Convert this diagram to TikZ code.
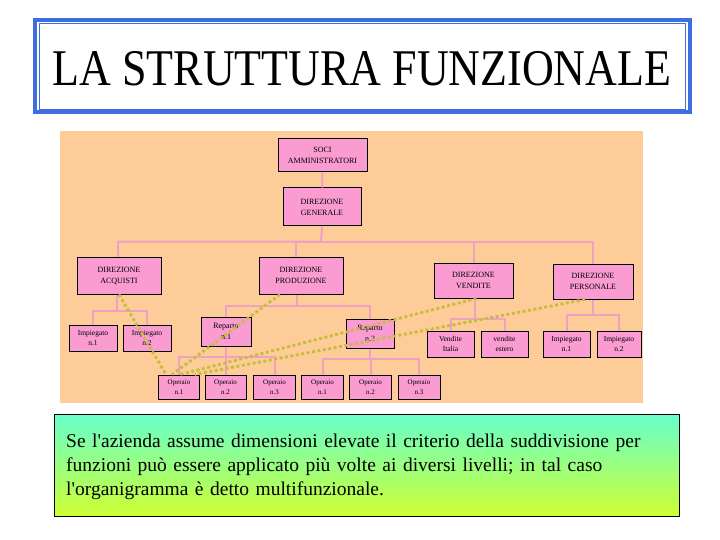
\documentclass[tikz,border=0pt]{standalone}
\usepackage{fontspec}
\setmainfont{Liberation Serif}
\usepackage{graphicx}
\definecolor{titleblue}{RGB}{62,110,225}
\definecolor{peach}{RGB}{253,204,153}
\definecolor{pinkbox}{RGB}{250,155,210}
\definecolor{pinkline}{RGB}{240,160,195}
\definecolor{olivedot}{RGB}{196,190,58}
\definecolor{mint}{RGB}{102,255,204}
\definecolor{lime}{RGB}{206,255,51}
\tikzset{
  orgbox/.style={draw=black, fill=pinkbox, line width=1pt, align=center,
    inner sep=0pt, font=\fontsize{8}{11}\selectfont},
  smallbox/.style={orgbox, font=\fontsize{7.5}{10.5}\selectfont},
  opbox/.style={orgbox, font=\fontsize{7}{10}\selectfont},
  conn/.style={draw=pinkline, line width=2pt},
  dotlink/.style={draw=olivedot, line width=2.8pt, dash pattern=on 3pt off 2.5pt},
}
\begin{document}
\begin{tikzpicture}[x=1pt,y=-1pt]
\useasboundingbox (0,0) rectangle (720,540);
\fill[white] (0,0) rectangle (720,540);
% title frame
\draw[titleblue, line width=3.5pt] (35,20) rectangle (690,112);
\draw[titleblue, line width=0.8pt] (39.5,23) rectangle (685.5,109);
\node (title) at (362,69) {\scalebox{1}[1.17]{\fontsize{44}{44}\selectfont LA STRUTTURA FUNZIONALE}};
% chart background
\fill[peach] (60,131) rectangle (643,403);
% junction coordinates
\coordinate (jdg) at (321,241.5);
\coordinate (jacq) at (117,311);
\coordinate (jprod) at (297,306);
\coordinate (jrep1) at (226,357);
\coordinate (jrep2) at (370,359);
\coordinate (jvend) at (475,319);
\coordinate (jpers) at (593,315);
% boxes
\node[orgbox, minimum width=89pt, minimum height=33pt] (soci) at (322.5,155.5) {SOCI\\AMMINISTRATORI};
\node[orgbox, minimum width=78pt, minimum height=38pt] (dg) at (322,207) {DIREZIONE\\GENERALE};
\node[orgbox, minimum width=84pt, minimum height=37pt] (dacq) at (119,275.5) {DIREZIONE\\ACQUISTI};
\node[orgbox, minimum width=84pt, minimum height=37pt] (dprod) at (301,275.5) {DIREZIONE\\PRODUZIONE};
\node[orgbox, minimum width=79pt, minimum height=35pt] (dvend) at (473.5,280.5) {DIREZIONE\\VENDITE};
\node[orgbox, minimum width=80pt, minimum height=35pt] (dpers) at (593,281.5) {DIREZIONE\\PERSONALE};
\node[smallbox, minimum width=48pt, minimum height=26pt] (imp1) at (93,338) {Impiegato\\n.1};
\node[smallbox, minimum width=48pt, minimum height=26pt] (imp2) at (147,338) {Impiegato\\n.2};
\node[orgbox, minimum width=50pt, minimum height=29pt] (rep1) at (226,331.5) {Reparto\\n.1};
\node[orgbox, minimum width=48pt, minimum height=29pt] (rep2) at (370,333.5) {Reparto\\n.2};
\node[smallbox, minimum width=47pt, minimum height=26pt] (vit) at (450.5,344) {Vendite\\Italia};
\node[smallbox, minimum width=47pt, minimum height=26pt] (vest) at (504.5,344) {vendite\\estero};
\node[smallbox, minimum width=47pt, minimum height=26pt] (impp1) at (566.5,344) {Impiegato\\n.1};
\node[smallbox, minimum width=44pt, minimum height=26pt] (impp2) at (619,344) {Impiegato\\n.2};
\node[opbox, minimum width=41pt, minimum height=24pt] (op1) at (179,387) {Operaio\\n.1};
\node[opbox, minimum width=41pt, minimum height=24pt] (op2) at (225.5,387) {Operaio\\n.2};
\node[opbox, minimum width=42pt, minimum height=24pt] (op3) at (274.5,387) {Operaio\\n.3};
\node[opbox, minimum width=42pt, minimum height=24pt] (op4) at (322.5,387) {Operaio\\n.1};
\node[opbox, minimum width=42pt, minimum height=24pt] (op5) at (370.5,387) {Operaio\\n.2};
\node[opbox, minimum width=42pt, minimum height=24pt] (op6) at (419,387) {Operaio\\n.3};
% connectors
\draw[conn] (soci.south) -- (dg.north);
\draw[conn] (dg.south) -- (jdg) -| ([xshift=-1pt]dacq.north);
\draw[conn] (jdg) -| ([xshift=-5pt]dprod.north);
\draw[conn] (jdg) -| (dvend.north);
\draw[conn] (jdg) -| (dpers.north);
\draw[conn] ([xshift=-2pt]dacq.south) -- (jacq) -| (imp1.north);
\draw[conn] (jacq) -| (imp2.north);
\draw[conn] ([xshift=-4pt]dprod.south) -- (jprod) -| (rep1.north);
\draw[conn] (jprod) -| (rep2.north);
\draw[conn] (rep1.south) -- (jrep1) -| (op1.north);
\draw[conn] (jrep1) -| (op2.north);
\draw[conn] (jrep1) -| (op3.north);
\draw[conn] (rep2.south) -- (jrep2) -| (op4.north);
\draw[conn] (jrep2) -| (op5.north);
\draw[conn] (jrep2) -| (op6.north);
\draw[conn] ([xshift=1.5pt]dvend.south) -- (jvend) -| (vit.north);
\draw[conn] (jvend) -| (vest.north);
\draw[conn] (dpers.south) -- (jpers) -| (impp1.north);
\draw[conn] (jpers) -| (impp2.north);
% dotted links on top
\draw[dotlink] (dacq.south) -- ([xshift=-13pt]op1.north);
\draw[dotlink] ([xshift=-21pt]dprod.south) -- ([xshift=-7pt]op1.north);
\draw[dotlink] ([xshift=3pt]dvend.south) -- ([xshift=1pt]op1.north);
\draw[dotlink] ([xshift=-8pt]dpers.south) -- ([xshift=16pt]op1.north);
% bottom text box
\shade[top color=mint, bottom color=lime] (54,414) rectangle (679,516);
\draw[black, line width=0.8pt] (54,414) rectangle (679,516);
\node[anchor=north west, align=left, inner sep=0pt, text width=610pt,
  font=\fontsize{19.5}{24}\selectfont] (txt) at (66,434)
  {Se l\textquotesingle azienda assume dimensioni elevate il criterio della suddivisione per\\
   funzioni può essere applicato più volte ai diversi livelli; in tal caso\\
   l\textquotesingle organigramma è detto multifunzionale.};
\end{tikzpicture}
\end{document}
